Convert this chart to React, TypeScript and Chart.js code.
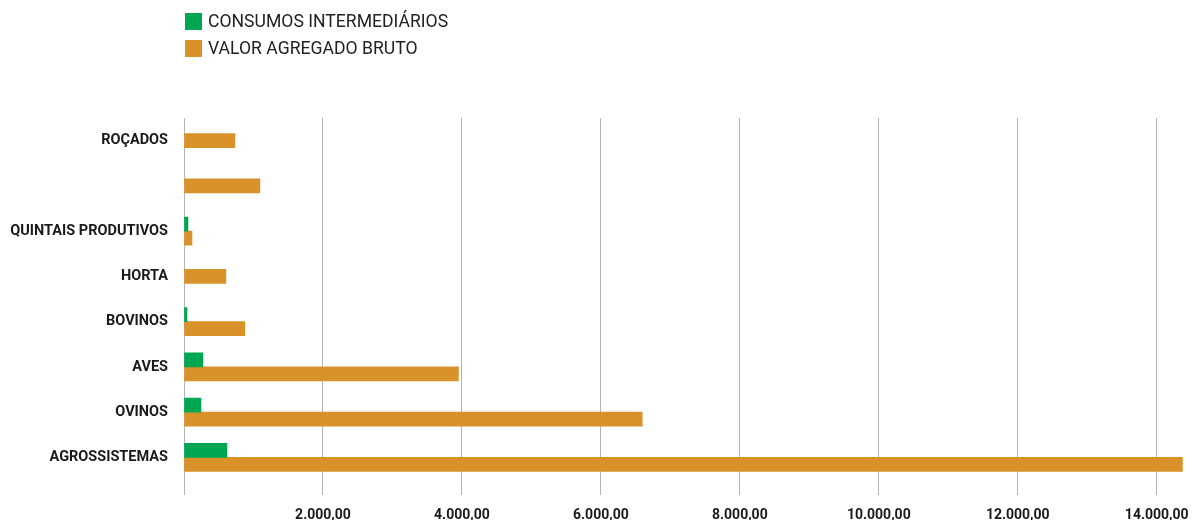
import React, { useEffect, useRef } from 'react';
import { Chart, registerables } from 'chart.js';

Chart.register(...registerables);

const categories = [
  'ROÇADOS',
  '',
  'QUINTAIS PRODUTIVOS',
  'HORTA',
  'BOVINOS',
  'AVES',
  'OVINOS',
  'AGROSSISTEMAS',
];

const consumosIntermediarios: (number | null)[] = [null, null, 57, null, 43, 273, 244, 618];
const valorAgregadoBruto: (number | null)[] = [733, 1092, 115, 603, 876, 3950, 6595, 14370];

const seriesNames = ['CONSUMOS INTERMEDIÁRIOS', 'VALOR AGREGADO BRUTO'];
const seriesColors = ['#00A651', '#D9922A'];

const xMin = 0;
const xMax = 14400;
const xTickValues = [0, 2000, 4000, 6000, 8000, 10000, 12000, 14000];

function formatBR(v: number): string {
  const s = Math.round(v)
    .toString()
    .replace(/\B(?=(\d{3})+(?!\d))/g, '.');
  return s + ',00';
}

const FONT = 'Roboto, "DejaVu Sans", sans-serif';

export default function App() {
  const ref = useRef<HTMLCanvasElement>(null);

  useEffect(() => {
    if (!ref.current) return;
    const chart = new Chart(ref.current, {
      type: 'bar',
      data: {
        labels: categories,
        datasets: [
          {
            label: seriesNames[0],
            data: consumosIntermediarios,
            backgroundColor: seriesColors[0],
            barThickness: 14,
            skipNull: true,
          } as any,
          {
            label: seriesNames[1],
            data: valorAgregadoBruto,
            backgroundColor: seriesColors[1],
            barThickness: 14,
            skipNull: true,
          } as any,
        ],
      },
      options: {
        indexAxis: 'y',
        animation: false,
        responsive: true,
        maintainAspectRatio: false,
        layout: { padding: { top: 118, right: 15, left: 0, bottom: 0 } },
        plugins: {
          legend: { display: false },
          tooltip: { enabled: false },
        },
        scales: {
          x: {
            min: xMin,
            max: xMax,
            border: { display: false },
            grid: {
              color: '#b3b3b3',
              lineWidth: 1,
              tickLength: 15,
              drawTicks: true,
            },
            afterBuildTicks: (s: any) => {
              s.ticks = xTickValues.map((v) => ({ value: v }));
            },
            afterFit: (s: any) => {
              s.height = 40;
            },
            ticks: {
              maxRotation: 0,
              autoSkip: false,
              padding: 12,
              color: '#1a1a1a',
              font: { family: FONT, size: 14, weight: 'bold' },
              callback: (v: any) => (Number(v) === 0 ? '' : formatBR(Number(v))),
            },
          },
          y: {
            border: { display: false },
            grid: { display: false, drawTicks: false },
            afterFit: (s: any) => {
              s.width = 184;
            },
            ticks: {
              padding: 16,
              color: '#1a1a1a',
              autoSkip: false,
              font: { family: FONT, size: 14.5, weight: 'bold' },
            },
          },
        },
      },
    });
    return () => chart.destroy();
  }, []);

  return (
    <div style={{ position: 'absolute', left: 0, top: 0, width: 1201, height: 520, background: '#fff' }}>
      <canvas ref={ref} />
      <div
        style={{
          position: 'absolute',
          left: 185,
          top: 12,
          fontFamily: FONT,
          fontSize: 17.6,
          color: '#222',
          lineHeight: '19px',
        }}
      >
        {seriesNames.map((name, i) => (
          <div key={name} style={{ display: 'flex', alignItems: 'center', height: 19, marginBottom: 8 }}>
            <span
              style={{
                display: 'inline-block',
                width: 17,
                height: 17,
                background: seriesColors[i],
                marginRight: 6,
              }}
            />
            <span>{name}</span>
          </div>
        ))}
      </div>
    </div>
  );
}
